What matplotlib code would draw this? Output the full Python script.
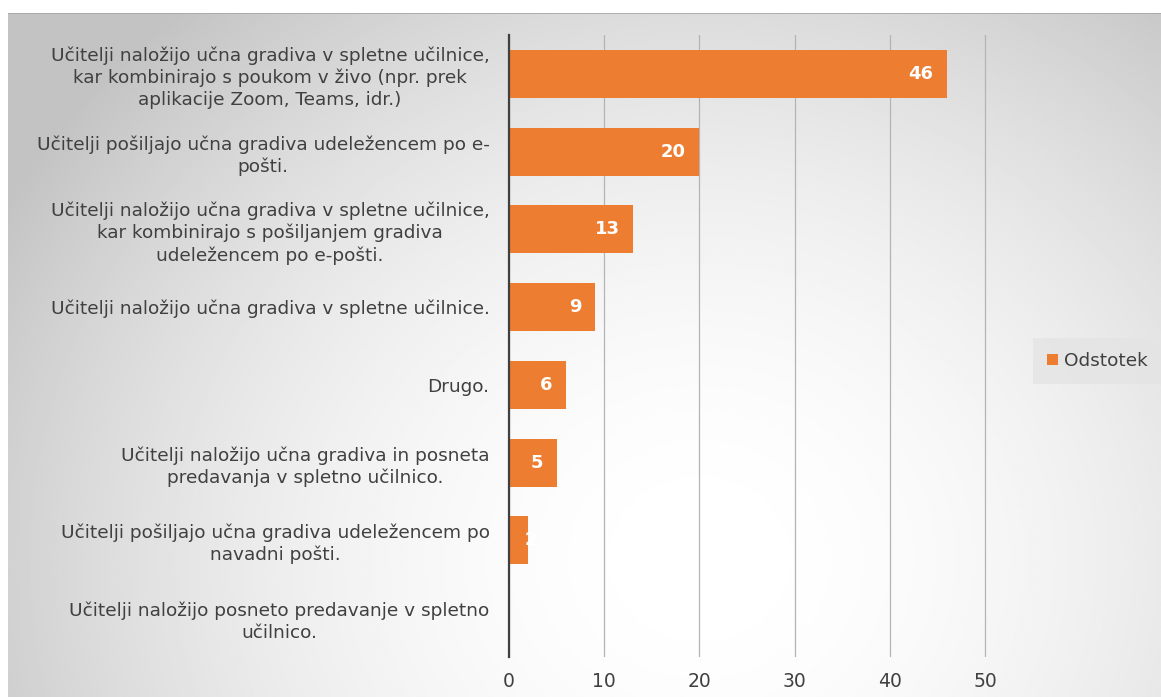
import matplotlib
matplotlib.use('Agg')
import matplotlib.pyplot as plt
import numpy as np

# Podatki
categories = [
    'Učitelji naložijo učna gradiva v spletne učilnice,\nkar kombinirajo s poukom v živo (npr. prek\naplikacije Zoom, Teams, idr.)',
    'Učitelji pošiljajo učna gradiva udeležencem po e-\npošti.',
    'Učitelji naložijo učna gradiva v spletne učilnice,\nkar kombinirajo s pošiljanjem gradiva\nudeležencem po e-pošti.',
    'Učitelji naložijo učna gradiva v spletne učilnice.',
    'Drugo.',
    'Učitelji naložijo učna gradiva in posneta\npredavanja v spletno učilnico.',
    'Učitelji pošiljajo učna gradiva udeležencem po\nnavadni pošti.',
    'Učitelji naložijo posneto predavanje v spletno\nučilnico.',
]
values = [46, 20, 13, 9, 6, 5, 2, 0]
x_ticks = [0, 10, 20, 30, 40, 50]
series_name = 'Odstotek'

W, H = 1161, 697
fig = plt.figure(figsize=(W / 100, H / 100), dpi=100)
fig.patch.set_facecolor('white')

# Ozadje z radialnim prelivom
bg = fig.add_axes([8 / W, 0, 1 - 8 / W, 1 - 13 / H], zorder=0)
xx, yy = np.meshgrid(np.linspace(8, W, 400), np.linspace(13, H, 300))
d = np.sqrt((xx - 700) ** 2 + ((yy - 560) * 1.1) ** 2)
shade = 1 - 0.235 * np.clip(d / 800, 0, 1) ** 1.9
bg.imshow(shade, cmap='gray', vmin=0, vmax=1, aspect='auto',
          extent=[0, 1, 0, 1], origin='upper', interpolation='bilinear')
bg.axhline(1, color='#a6a6a6', lw=1.2)
bg.set_axis_off()

ax = fig.add_axes([509 / W, 1 - 657 / H, (987 - 509) / W, (657 - 35) / H], zorder=1)
ax.patch.set_alpha(0)

y = np.arange(len(categories))
bars = ax.barh(y, values, height=0.62, color='#ED7D31', zorder=3)

# Oznake vrednosti znotraj stolpcev
for bar, v in zip(bars, values):
    if v == 0:
        continue
    cy = bar.get_y() + bar.get_height() / 2
    if v < 3:
        t = ax.text(v + 0.25, cy, str(v), ha='center', va='center',
                    color='white', fontsize=13, fontweight='bold', zorder=4)
    else:
        t = ax.text(v - 1.4, cy, str(v), ha='right', va='center',
                    color='white', fontsize=13, fontweight='bold', zorder=4)
    t.set_clip_path(bar)

ax.set_xlim(0, 50.2)
ax.set_ylim(len(categories) - 0.5, -0.5)
ax.set_xticks(x_ticks)
ax.set_yticks(y)
ax.set_yticklabels(categories, multialignment='center', linespacing=1.25)
ax.tick_params(axis='y', length=0, pad=14, labelsize=13.3, labelcolor='#404040')
ax.tick_params(axis='x', length=0, pad=11, labelsize=13.5, labelcolor='#404040')
ax.grid(axis='x', color='#b4b4b4', lw=0.9, zorder=1)
ax.grid(axis='y', visible=False)
for s in ['top', 'right', 'bottom']:
    ax.spines[s].set_visible(False)
ax.spines['left'].set_color('#404040')
ax.spines['left'].set_linewidth(1.6)
ax.spines['left'].set_zorder(5)

# Legenda
leg = ax.legend([bars], [series_name], loc='center left',
                bbox_to_anchor=(1033 / W, 1 - 361 / H), bbox_transform=fig.transFigure,
                frameon=True, fancybox=False, fontsize=13.3, handlelength=0.6,
                handleheight=0.6, handletextpad=0.35, borderpad=0.75,
                borderaxespad=0)
leg.get_frame().set_facecolor('#e4e4e4')
leg.get_frame().set_edgecolor('none')
leg.get_frame().set_alpha(0.8)
for txt in leg.get_texts():
    txt.set_color('#404040')

plt.savefig('out.png', dpi=100)
